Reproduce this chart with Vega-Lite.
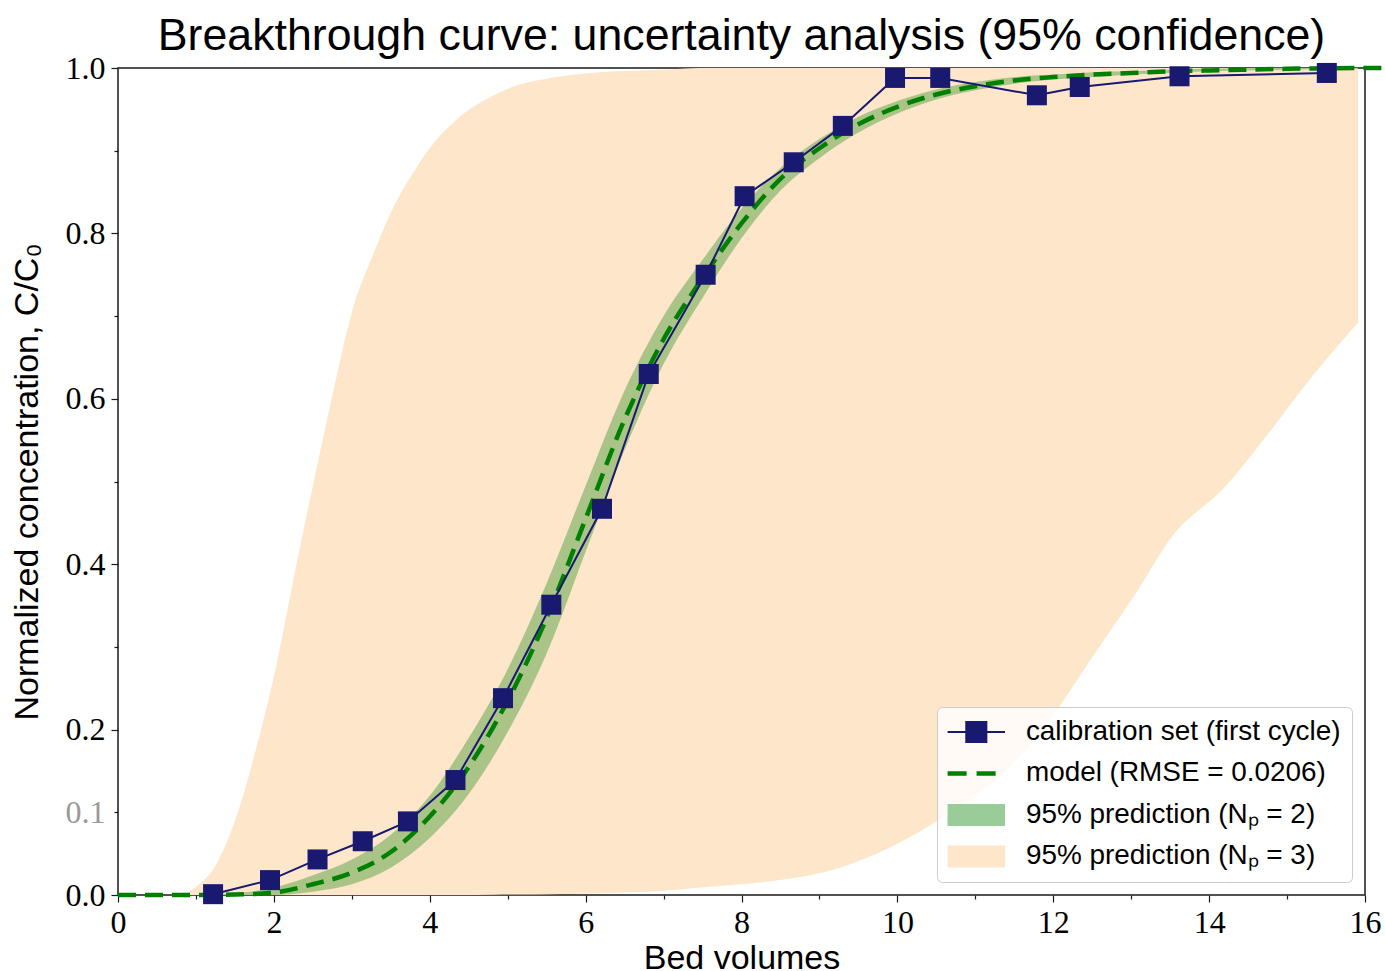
{
  "$schema": "https://vega.github.io/schema/vega-lite/v6.json",
  "width": 1247,
  "height": 827,
  "autosize": {"type": "none"},
  "padding": {"left": 118, "top": 68, "right": 20, "bottom": 76},
  "background": "white",
  "title": {
    "text": "Breakthrough curve: uncertainty analysis (95% confidence)",
    "font": "Liberation Sans",
    "fontSize": 44.7,
    "fontWeight": "normal",
    "color": "black",
    "anchor": "middle",
    "frame": "group",
    "baseline": "alphabetic",
    "offset": 12,
    "dy": 55
  },
  "config": {
    "view": {"stroke": "#1a1a1a", "strokeWidth": 1.5},
    "axis": {
      "domain": false,
      "grid": false,
      "tickColor": "#1a1a1a",
      "tickWidth": 1.2,
      "labelFont": "Liberation Serif",
      "labelFontSize": 32,
      "labelColor": "black",
      "titleFont": "Liberation Sans",
      "titleFontSize": 34,
      "titleFontWeight": "normal",
      "titleColor": "black",
      "labelFlush": false,
      "labelBound": false,
      "labelOverlap": false
    }
  },
  "datasets": {
    "calib": [
      {"bv": 1.22, "c": 0.001},
      {"bv": 1.95, "c": 0.018},
      {"bv": 2.56, "c": 0.043},
      {"bv": 3.14, "c": 0.065},
      {"bv": 3.72, "c": 0.089},
      {"bv": 4.33, "c": 0.139},
      {"bv": 4.94, "c": 0.238},
      {"bv": 5.56, "c": 0.351},
      {"bv": 6.21, "c": 0.467},
      {"bv": 6.81, "c": 0.630},
      {"bv": 7.54, "c": 0.750},
      {"bv": 8.04, "c": 0.845},
      {"bv": 8.67, "c": 0.886},
      {"bv": 9.30, "c": 0.930},
      {"bv": 9.97, "c": 0.988},
      {"bv": 10.55, "c": 0.988},
      {"bv": 11.79, "c": 0.967},
      {"bv": 12.34, "c": 0.977},
      {"bv": 13.62, "c": 0.990},
      {"bv": 15.51, "c": 0.994}
    ],
    "fit": [
      {"bv": 0, "c": 0}, {"bv": 0.5, "c": 0}, {"bv": 1, "c": 0},
      {"bv": 1.5, "c": 0.0005}, {"bv": 2, "c": 0.003}, {"bv": 2.5, "c": 0.013},
      {"bv": 3, "c": 0.027}, {"bv": 3.5, "c": 0.052}, {"bv": 4, "c": 0.095},
      {"bv": 4.5, "c": 0.155}, {"bv": 5, "c": 0.235}, {"bv": 5.5, "c": 0.335},
      {"bv": 6, "c": 0.455}, {"bv": 6.5, "c": 0.575}, {"bv": 7, "c": 0.672},
      {"bv": 7.5, "c": 0.746}, {"bv": 8, "c": 0.812}, {"bv": 8.5, "c": 0.866},
      {"bv": 9, "c": 0.903}, {"bv": 9.5, "c": 0.932}, {"bv": 10, "c": 0.953},
      {"bv": 10.5, "c": 0.968}, {"bv": 11, "c": 0.978}, {"bv": 11.5, "c": 0.985},
      {"bv": 12, "c": 0.989}, {"bv": 12.5, "c": 0.992}, {"bv": 13, "c": 0.994},
      {"bv": 13.5, "c": 0.996}, {"bv": 14, "c": 0.997}, {"bv": 15, "c": 0.999},
      {"bv": 16, "c": 1.0}, {"bv": 16.3, "c": 1.0}
    ],
    "band2": [
      {"bv": 0, "lo": 0, "hi": 0}, {"bv": 1, "lo": 0, "hi": 0},
      {"bv": 1.5, "lo": 0, "hi": 0.002}, {"bv": 2, "lo": 0, "hi": 0.009},
      {"bv": 2.5, "lo": 0.004, "hi": 0.024}, {"bv": 3, "lo": 0.013, "hi": 0.043},
      {"bv": 3.5, "lo": 0.033, "hi": 0.073}, {"bv": 4, "lo": 0.069, "hi": 0.12},
      {"bv": 4.5, "lo": 0.122, "hi": 0.19}, {"bv": 5, "lo": 0.197, "hi": 0.273},
      {"bv": 5.5, "lo": 0.292, "hi": 0.377}, {"bv": 6, "lo": 0.415, "hi": 0.495},
      {"bv": 6.5, "lo": 0.538, "hi": 0.61}, {"bv": 7, "lo": 0.642, "hi": 0.70},
      {"bv": 7.5, "lo": 0.722, "hi": 0.768}, {"bv": 8, "lo": 0.794, "hi": 0.83},
      {"bv": 8.5, "lo": 0.852, "hi": 0.879}, {"bv": 9, "lo": 0.891, "hi": 0.914},
      {"bv": 9.5, "lo": 0.922, "hi": 0.941}, {"bv": 10, "lo": 0.945, "hi": 0.96},
      {"bv": 10.5, "lo": 0.962, "hi": 0.974}, {"bv": 11, "lo": 0.973, "hi": 0.983},
      {"bv": 11.5, "lo": 0.981, "hi": 0.989}, {"bv": 12, "lo": 0.986, "hi": 0.992},
      {"bv": 12.5, "lo": 0.989, "hi": 0.995}, {"bv": 13, "lo": 0.992, "hi": 0.996},
      {"bv": 13.5, "lo": 0.994, "hi": 0.998}, {"bv": 14, "lo": 0.996, "hi": 0.999},
      {"bv": 15, "lo": 0.998, "hi": 1.0}, {"bv": 16, "lo": 0.999, "hi": 1.0}
    ],
    "band3": [
      {"bv": 0, "lo": 0, "hi": 0}, {"bv": 0.8, "lo": 0, "hi": 0},
      {"bv": 1.0, "lo": 0, "hi": 0.01}, {"bv": 1.26, "lo": 0, "hi": 0.037},
      {"bv": 1.52, "lo": 0, "hi": 0.095}, {"bv": 1.78, "lo": 0, "hi": 0.18},
      {"bv": 2.03, "lo": 0, "hi": 0.277}, {"bv": 2.29, "lo": 0, "hi": 0.40},
      {"bv": 2.55, "lo": 0, "hi": 0.517}, {"bv": 2.76, "lo": 0, "hi": 0.608},
      {"bv": 3.02, "lo": 0, "hi": 0.711}, {"bv": 3.28, "lo": 0, "hi": 0.776},
      {"bv": 3.53, "lo": 0, "hi": 0.831}, {"bv": 3.79, "lo": 0, "hi": 0.874},
      {"bv": 4.05, "lo": 0, "hi": 0.909}, {"bv": 4.35, "lo": 0, "hi": 0.938},
      {"bv": 4.82, "lo": 0.0003, "hi": 0.967}, {"bv": 5.12, "lo": 0.0006, "hi": 0.979},
      {"bv": 5.55, "lo": 0.001, "hi": 0.988}, {"bv": 6.19, "lo": 0.002, "hi": 0.995},
      {"bv": 7.0, "lo": 0.005, "hi": 0.998}, {"bv": 7.47, "lo": 0.009, "hi": 1.0},
      {"bv": 8.31, "lo": 0.016, "hi": 1.0}, {"bv": 9.15, "lo": 0.030, "hi": 1.0},
      {"bv": 9.71, "lo": 0.049, "hi": 1.0}, {"bv": 10.27, "lo": 0.076, "hi": 1.0},
      {"bv": 10.83, "lo": 0.109, "hi": 1.0}, {"bv": 11.39, "lo": 0.150, "hi": 1.0},
      {"bv": 11.95, "lo": 0.211, "hi": 1.0}, {"bv": 12.51, "lo": 0.289, "hi": 1.0},
      {"bv": 13.08, "lo": 0.368, "hi": 1.0}, {"bv": 13.52, "lo": 0.433, "hi": 1.0},
      {"bv": 14.2, "lo": 0.493, "hi": 1.0}, {"bv": 14.76, "lo": 0.558, "hi": 1.0},
      {"bv": 15.32, "lo": 0.627, "hi": 1.0}, {"bv": 15.91, "lo": 0.692, "hi": 1.0}
    ]
  },
  "resolve": {"axis": {"x": "independent", "y": "independent"}},
  "layer": [
    {
      "data": {"name": "band3"},
      "mark": {"type": "area", "interpolate": "monotone", "opacity": 1},
      "encoding": {
        "x": {
          "field": "bv", "type": "quantitative",
          "scale": {"domain": [0, 16], "nice": false, "zero": false},
          "axis": {
            "orient": "bottom",
            "values": [0, 2, 4, 6, 8, 10, 12, 14, 16],
            "format": "d",
            "tickSize": 7,
            "labelPadding": 5,
            "title": "Bed volumes",
            "titlePadding": 3
          }
        },
        "y": {
          "field": "hi", "type": "quantitative",
          "scale": {"domain": [0, 1], "nice": false},
          "axis": {
            "orient": "left",
            "values": [0, 0.2, 0.4, 0.6, 0.8, 1.0],
            "format": ".1f",
            "tickSize": 7,
            "labelPadding": 6,
            "title": "Normalized concentration, C/C₀",
            "titlePadding": 21
          }
        },
        "y2": {"field": "lo"},
        "color": {
          "datum": "95% prediction (Nₚ = 3)",
          "type": "nominal",
          "scale": {
            "domain": [
              "calibration set (first cycle)",
              "model (RMSE = 0.0206)",
              "95% prediction (Nₚ = 2)",
              "95% prediction (Nₚ = 3)"
            ],
            "range": ["#191970", "#008000", "#99cc99", "#fee6cb"]
          },
          "legend": {
            "title": null,
            "orient": "none",
            "legendX": 819,
            "legendY": 639,
            "padding": 11,
            "fillColor": "rgba(255,255,255,0.8)",
            "strokeColor": "#cccccc",
            "cornerRadius": 5,
            "symbolSize": 824,
            "symbolOpacity": 1,
            "symbolType": {"expr": "datum.index === 0 ? 'M-1,0H3M0.3,-0.7H1.7V0.7H0.3Z' : datum.index === 1 ? 'M-1,0H3' : 'M-1,-0.77H3V0.77H-1Z'"},
            "symbolStrokeColor": {"expr": "datum.index === 0 ? '#191970' : datum.index === 1 ? '#008000' : 'transparent'"},
            "symbolStrokeWidth": {"expr": "datum.index === 0 ? 2 : datum.index === 1 ? 4.5 : 0"},
            "symbolDash": {"expr": "datum.index === 1 ? [19, 10] : [1, 0]"},
            "labelOffset": 50,
            "rowPadding": 12.5,
            "labelFont": "Liberation Sans",
            "labelFontSize": 27.9,
            "labelColor": "black",
            "labelLimit": 0
          }
        }
      }
    },
    {
      "data": {"name": "band2"},
      "mark": {"type": "area", "interpolate": "monotone", "color": "#008000", "opacity": 0.33},
      "encoding": {
        "x": {
          "field": "bv", "type": "quantitative",
          "scale": {"domain": [0, 16], "nice": false, "zero": false},
          "axis": {
            "orient": "bottom",
            "values": [1, 3, 5, 7, 9, 11, 13, 15],
            "tickSize": 4,
            "labels": false,
            "title": null
          }
        },
        "y": {
          "field": "hi", "type": "quantitative",
          "scale": {"domain": [0, 1], "nice": false},
          "axis": {
            "orient": "left",
            "values": [0.1, 0.3, 0.5, 0.7, 0.9],
            "tickSize": 4,
            "labelPadding": 9,
            "labelExpr": "datum.value < 0.15 ? '0.1' : ''",
            "labelColor": "#999999",
            "title": null
          }
        },
        "y2": {"field": "lo"}
      }
    },
    {
      "data": {"name": "fit"},
      "mark": {"type": "line", "interpolate": "monotone", "color": "#008000", "strokeWidth": 4.5, "strokeDash": [18, 9]},
      "encoding": {
        "x": {"field": "bv", "type": "quantitative", "scale": {"domain": [0, 16], "nice": false, "zero": false}, "axis": null},
        "y": {"field": "c", "type": "quantitative", "scale": {"domain": [0, 1], "nice": false}, "axis": null}
      }
    },
    {
      "data": {"name": "calib"},
      "mark": {"type": "line", "color": "#191970", "strokeWidth": 2},
      "encoding": {
        "x": {"field": "bv", "type": "quantitative", "scale": {"domain": [0, 16], "nice": false, "zero": false}, "axis": null},
        "y": {"field": "c", "type": "quantitative", "scale": {"domain": [0, 1], "nice": false}, "axis": null}
      }
    },
    {
      "data": {"name": "calib"},
      "mark": {"type": "point", "shape": "square", "size": 400, "filled": true, "color": "#191970", "opacity": 1},
      "encoding": {
        "x": {"field": "bv", "type": "quantitative", "scale": {"domain": [0, 16], "nice": false, "zero": false}, "axis": null},
        "y": {"field": "c", "type": "quantitative", "scale": {"domain": [0, 1], "nice": false}, "axis": null}
      }
    }
  ]
}
